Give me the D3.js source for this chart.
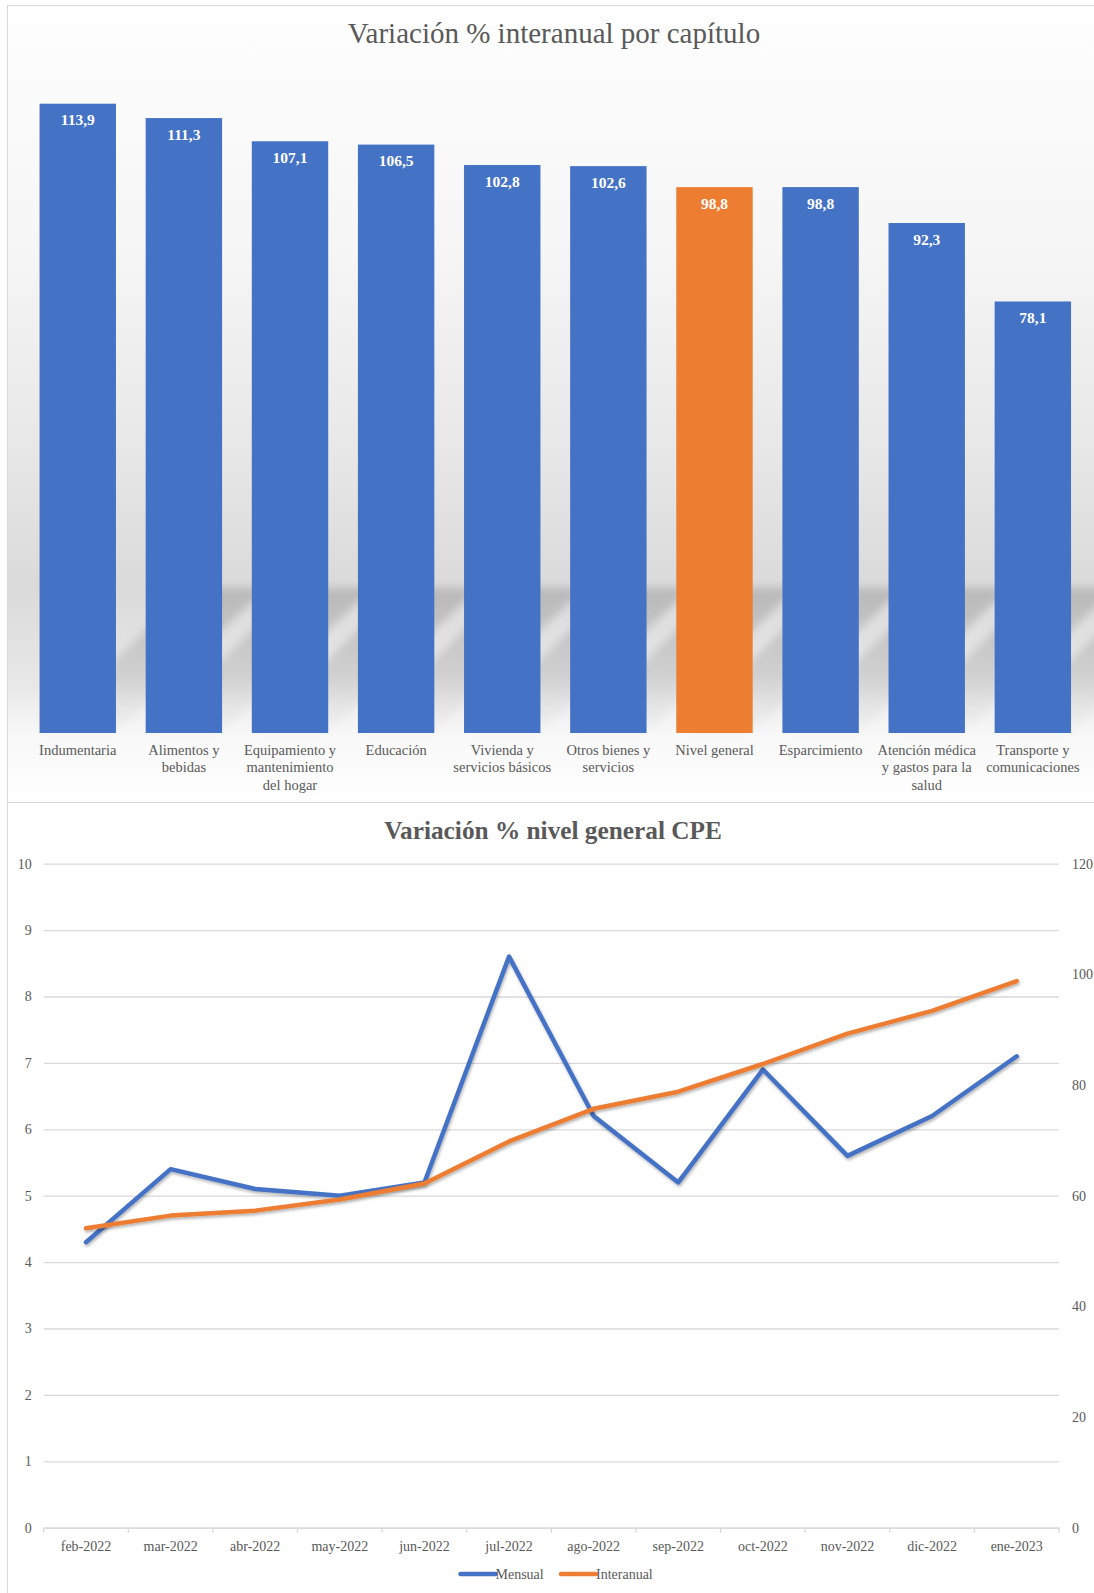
<!DOCTYPE html>
<html>
<head>
<meta charset="utf-8">
<script src="https://cdn.jsdelivr.net/npm/d3@7/dist/d3.min.js"></script>
<style>
  body { margin: 0; background: #fff; }
  text { font-family: "Liberation Serif", "Times New Roman", serif; }
</style>
</head>
<body>
<script>
// datos del grafico de barras
var capitulos = ["Indumentaria", "Alimentos y\nbebidas", "Equipamiento y\nmantenimiento\ndel hogar", "Educación",
  "Vivienda y\nservicios básicos", "Otros bienes y\nservicios", "Nivel general", "Esparcimiento",
  "Atención médica\ny gastos para la\nsalud", "Transporte y\ncomunicaciones"];
var varCapitulo = [113.9, 111.3, 107.1, 106.5, 102.8, 102.6, 98.8, 98.8, 92.3, 78.1];
var destacado = "Nivel general";

// datos del grafico de lineas
var meses = ["feb-2022", "mar-2022", "abr-2022", "may-2022", "jun-2022", "jul-2022",
  "ago-2022", "sep-2022", "oct-2022", "nov-2022", "dic-2022", "ene-2023"];
var mensual = [4.3, 5.4, 5.1, 5.0, 5.2, 8.6, 6.2, 5.2, 6.9, 5.6, 6.2, 7.1];
var interanual = [54.1, 56.4, 57.3, 59.3, 62.2, 69.8, 75.7, 78.8, 83.8, 89.3, 93.4, 98.8];
var ticksIzq = [0, 1, 2, 3, 4, 5, 6, 7, 8, 9, 10];
var ticksDer = [0, 20, 40, 60, 80, 100, 120];

var width = 1094, height = 1593
  , azul = "#4472C4", naranja = "#ED7D31", gris = "#595959", grilla = "#d9d9d9";

var es = d3.formatLocale({decimal: ",", thousands: ".", grouping: [3], currency: ["$", ""]});
var fmt = es.format(".1f");

var svg = d3.select("body").append("svg").attr("width", width).attr("height", height);
var defs = svg.append("defs");

//fondo degradado del panel superior
var bg = defs.append("linearGradient").attr("id", "bg").attr("gradientUnits", "userSpaceOnUse")
  .attr("x1", 0).attr("y1", 5).attr("x2", 0).attr("y2", 802);
[[0, "#fefefe"], [0.3, "#f6f6f6"], [0.55, "#e8e8e8"], [0.73, "#dadada"], [0.86, "#e9e9e9"], [0.915, "#f8f8f8"], [1, "#ffffff"]]
  .forEach(function(s) { bg.append("stop").attr("offset", s[0]).attr("stop-color", s[1]); });

var sh = defs.append("linearGradient").attr("id", "sh").attr("gradientUnits", "userSpaceOnUse")
  .attr("x1", 0).attr("y1", 588).attr("x2", 0).attr("y2", 733);
sh.append("stop").attr("offset", 0).attr("stop-color", "#b4b4b4").attr("stop-opacity", 0.9);
sh.append("stop").attr("offset", 0.6).attr("stop-color", "#c4c4c4").attr("stop-opacity", 0.65);
sh.append("stop").attr("offset", 1).attr("stop-color", "#e6e6e6").attr("stop-opacity", 0.2);

defs.append("filter").attr("id", "blur").append("feGaussianBlur").attr("stdDeviation", 4.5);

var ls = defs.append("filter").attr("id", "lsh").attr("x", "-5%").attr("y", "-5%").attr("width", "110%").attr("height", "120%");
ls.append("feDropShadow").attr("dx", 1).attr("dy", 2).attr("stdDeviation", 1.5).attr("flood-color", "#000").attr("flood-opacity", 0.3);

// ---------- panel superior ----------
svg.append("rect").attr("x", 7.5).attr("y", 5.5).attr("width", 1100).attr("height", 797)
  .attr("fill", "url(#bg)").attr("stroke", grilla);

svg.append("text").attr("x", 554).attr("y", 43).attr("text-anchor", "middle")
  .attr("font-size", 29).attr("fill", gris).text("Variación % interanual por capítulo");

var x = d3.scaleBand().domain(capitulos).range([24.7, 1085.9]).paddingInner(0.28).paddingOuter(0.14);
var y = d3.scaleLinear().domain([0, 113.9]).range([733, 103.7]);
var base = y(0);

var gTop = svg.append("g");
var sombraH = 145, sombraDx = 150;

gTop.selectAll(".sombra").data(capitulos).enter().append("polygon").attr("class", "sombra")
  .attr("points", function(d) {
    var x0 = x(d), x1 = x(d) + x.bandwidth();
    return [[x0, base], [x1, base], [x1 + sombraDx, base - sombraH], [x0 + sombraDx, base - sombraH]].join(" ");
  })
  .attr("fill", "url(#sh)").attr("filter", "url(#blur)");

gTop.selectAll(".bar").data(capitulos).enter().append("rect").attr("class", "bar")
  .attr("x", function(d) { return x(d); })
  .attr("width", x.bandwidth())
  .attr("y", function(d, i) { return y(varCapitulo[i]); })
  .attr("height", function(d, i) { return base - y(varCapitulo[i]); })
  .attr("fill", function(d) { return d == destacado ? naranja : azul; });

gTop.selectAll(".val").data(capitulos).enter().append("text").attr("class", "val")
  .attr("x", function(d) { return x(d) + x.bandwidth() / 2; })
  .attr("y", function(d, i) { return y(varCapitulo[i]) + 21.5; })
  .attr("text-anchor", "middle").attr("font-size", 15.5).attr("font-weight", "bold").attr("fill", "#fff")
  .text(function(d, i) { return fmt(varCapitulo[i]); });

var cat = gTop.selectAll(".cat").data(capitulos).enter().append("text").attr("class", "cat")
  .attr("text-anchor", "middle").attr("font-size", 14.5).attr("fill", gris)
  .attr("transform", function(d) { return "translate(" + (x(d) + x.bandwidth() / 2) + ",755)"; });
cat.selectAll("tspan").data(function(d) { return d.split("\n"); }).enter().append("tspan")
  .attr("x", 0).attr("y", function(d, i) { return i * 17.3; }).text(function(d) { return d; });

// ---------- panel inferior ----------
svg.append("rect").attr("x", 7.5).attr("y", 802.5).attr("width", 1100).attr("height", 800)
  .attr("fill", "#fff").attr("stroke", grilla);

svg.append("text").attr("x", 553).attr("y", 838.5).attr("text-anchor", "middle")
  .attr("font-size", 25.3).attr("font-weight", "bold").attr("fill", gris).text("Variación % nivel general CPE");

var xm = d3.scaleBand().domain(meses).range([43.7, 1059]);
var yL = d3.scaleLinear().domain([0, 10]).range([1527.7, 863.7]);
var yR = d3.scaleLinear().domain([0, 120]).range([1527.7, 863.7]);

var gL = svg.append("g").attr("transform", "translate(43.7,0)")
  .call(d3.axisLeft(yL).tickValues(ticksIzq).tickSize(-(1059 - 43.7)).tickPadding(12));
gL.select(".domain").remove();
gL.selectAll("line").attr("stroke", grilla).attr("stroke-width", 1.3);
gL.selectAll("text").attr("font-size", 14).attr("fill", gris).attr("font-family", null);

var gR = svg.append("g").attr("transform", "translate(1059,0)")
  .call(d3.axisRight(yR).tickValues(ticksDer).tickSize(0).tickPadding(13));
gR.select(".domain").remove();
gR.selectAll("text").attr("font-size", 14).attr("fill", gris).attr("font-family", null);

var gX = svg.append("g").attr("transform", "translate(0,1527.7)")
  .call(d3.axisBottom(xm).tickSize(0));
gX.select(".domain").attr("stroke", grilla).attr("stroke-width", 1.3);
gX.selectAll("text").attr("y", 23).attr("dy", null).attr("font-size", 14).attr("fill", gris).attr("font-family", null);

// marcas entre categorias
var bordes = meses.map(function(m) { return xm(m); }).concat([xm.range()[1]]);
gX.selectAll(".borde").data(bordes).enter().append("line").attr("class", "borde")
  .attr("x1", function(d) { return d; }).attr("x2", function(d) { return d; })
  .attr("y1", 0).attr("y2", 5).attr("stroke", grilla).attr("stroke-width", 1.3);

var cx = function(d, i) { return xm(meses[i]) + xm.bandwidth() / 2; };
var lineaM = d3.line().x(cx).y(function(d) { return yL(d); });
var lineaI = d3.line().x(cx).y(function(d) { return yR(d); });

svg.append("path").datum(mensual).attr("d", lineaM).attr("fill", "none").attr("stroke", azul)
  .attr("stroke-width", 4.5).attr("stroke-linejoin", "round").attr("stroke-linecap", "round").attr("filter", "url(#lsh)");
svg.append("path").datum(interanual).attr("d", lineaI).attr("fill", "none").attr("stroke", naranja)
  .attr("stroke-width", 4.5).attr("stroke-linejoin", "round").attr("stroke-linecap", "round").attr("filter", "url(#lsh)");

// leyenda
var ley = [["Mensual", azul, 460.5], ["Interanual", naranja, 561]];
var gLey = svg.append("g").selectAll("g").data(ley).enter().append("g")
  .attr("transform", function(d) { return "translate(" + d[2] + ",1574)"; });
gLey.append("line").attr("x1", 0).attr("x2", 35).attr("stroke", function(d) { return d[1]; })
  .attr("stroke-width", 4.5).attr("stroke-linecap", "round");
gLey.append("text").attr("x", 35).attr("y", 5).attr("font-size", 14).attr("fill", gris)
  .text(function(d) { return d[0]; });
</script>
</body>
</html>
